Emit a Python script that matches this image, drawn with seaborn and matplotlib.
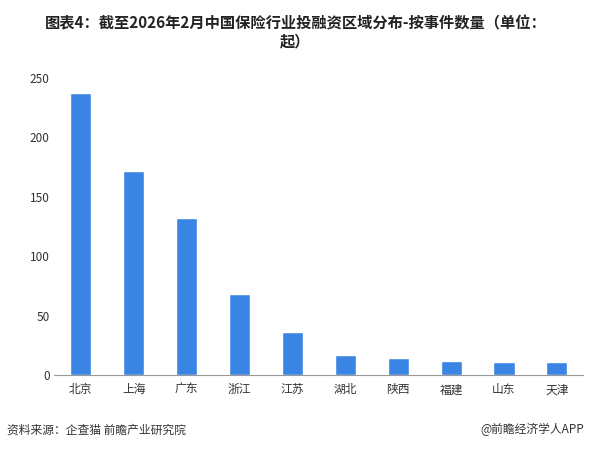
import matplotlib
matplotlib.use("Agg")
import matplotlib.pyplot as plt
import seaborn as sns
import pandas as pd

regions = ["北京", "上海", "广东", "浙江", "江苏", "湖北", "陕西", "福建", "山东", "天津"]
counts = [237, 172, 132, 68, 36, 17, 14, 12, 11, 11]
yticks = [0, 50, 100, 150, 200, 250]

sns.set_style("white")
plt.rcParams['font.family'] = ['Noto Sans CJK SC', 'DejaVu Sans']

df = pd.DataFrame({"地区": regions, "数量": counts})

fig = plt.figure(figsize=(5.91, 4.49), dpi=100)
ax = fig.add_axes([0.092, 0.165, 0.895, 0.693])
sns.barplot(x="地区", y="数量", data=df, color="#3a85e3", width=0.4, ax=ax, saturation=1)

ax.set_ylim(0, 262)
ax.set_yticks(yticks)
ax.set_xlabel("")
ax.set_ylabel("")
ax.tick_params(axis="both", labelsize=8.5, colors="#333333", length=0)
ax.tick_params(axis="x", pad=6)
for s in ["top", "right", "left"]:
    ax.spines[s].set_visible(False)
ax.spines["bottom"].set_color("#999999")

fig.text(0.5, 0.965, "图表4：截至2026年2月中国保险行业投融资区域分布-按事件数量（单位：\n起）",
         ha="center", va="top", fontsize=11, fontweight="bold", color="#222222", linespacing=1.1)
fig.text(0.012, 0.035, "资料来源：企查猫 前瞻产业研究院", fontsize=8.5, color="#333333")
fig.text(0.988, 0.035, "@前瞻经济学人APP", fontsize=8.5, color="#333333", ha="right")

fig.savefig("out.png", dpi=100)
